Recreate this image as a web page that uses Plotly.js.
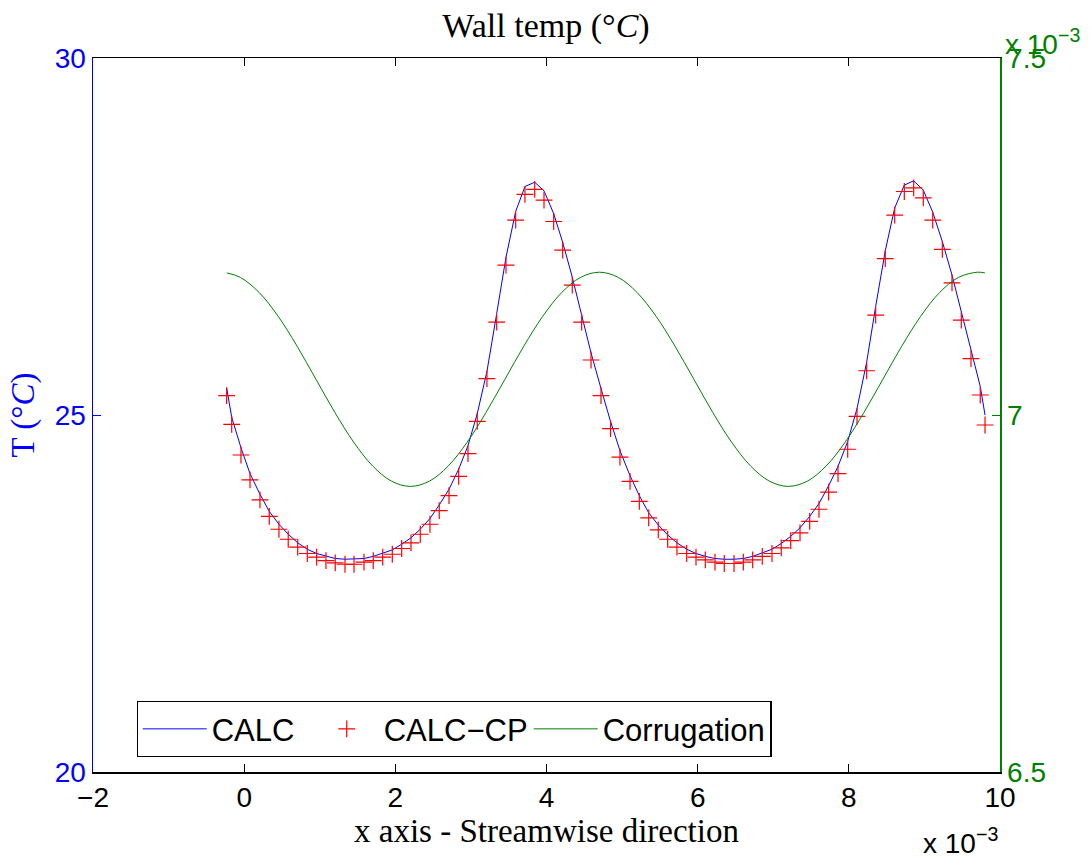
<!DOCTYPE html>
<html>
<head>
<meta charset="utf-8">
<script src="https://cdn.plot.ly/plotly-3.0.1.min.js"></script>
<style>
html,body{margin:0;padding:0;background:#fff;}
#chart{width:1092px;height:861px;}
</style>
</head>
<body>
<div id="chart"></div>
<script>
// x positions (units of 1e-3) shared by CALC and CALC-CP
const xPts = [-0.232,-0.165,-0.042,0.077,0.209,0.332,0.460,0.583,0.708,0.835,
  0.959,1.082,1.205,1.334,1.453,1.585,1.708,1.833,1.960,2.084,
  2.207,2.330,2.458,2.581,2.710,2.838,2.961,3.084,3.212,3.341,
  3.464,3.592,3.715,3.844,3.967,4.095,4.214,4.341,4.465,4.589,
  4.721,4.847,4.972,5.105,5.228,5.352,5.479,5.603,5.726,5.855,
  5.978,6.101,6.229,6.352,6.481,6.604,6.728,6.855,6.983,7.106,
  7.231,7.354,7.482,7.605,7.733,7.857,7.985,8.108,8.236,8.355,
  8.482,8.607,8.734,8.858,8.985,9.110,9.237,9.365,9.488,9.616,
  9.739,9.802];

// CALC (blue line), wall temperature in deg C
const calcT = [25.38,24.97,24.54,24.18,23.89,23.65,23.47,23.33,23.21,23.12,
  23.06,23.02,22.99,22.98,22.98,22.99,23.02,23.06,23.11,23.19,
  23.28,23.40,23.55,23.74,23.96,24.24,24.57,25.02,25.61,26.42,
  27.21,27.85,28.20,28.26,28.14,27.82,27.42,26.93,26.40,25.87,
  25.37,24.91,24.50,24.15,23.87,23.63,23.46,23.32,23.21,23.12,
  23.06,23.02,22.99,22.98,22.98,22.99,23.02,23.07,23.12,23.20,
  23.30,23.42,23.58,23.76,24.01,24.28,24.63,25.09,25.74,26.52,
  27.30,27.90,28.22,28.28,28.15,27.84,27.43,26.96,26.44,25.90,
  25.40,25.00];

// CALC-CP (red + markers)
const calcCpT = [25.27,24.87,24.44,24.09,23.81,23.58,23.40,23.26,23.15,23.06,
  23.01,22.96,22.93,22.91,22.91,22.94,22.96,23.01,23.05,23.13,
  23.21,23.33,23.47,23.66,23.87,24.14,24.46,24.91,25.51,26.30,
  27.10,27.73,28.09,28.16,28.01,27.71,27.31,26.82,26.30,25.77,
  25.27,24.81,24.41,24.07,23.79,23.56,23.39,23.26,23.15,23.06,
  23.01,22.97,22.94,22.92,22.92,22.94,22.97,23.02,23.06,23.14,
  23.24,23.35,23.51,23.68,23.92,24.18,24.52,24.98,25.62,26.40,
  27.19,27.80,28.13,28.18,28.04,27.73,27.32,26.85,26.33,25.79,
  25.28,24.86];

// Corrugation (right axis, units of 1e-3)
const corrX = [-0.23,-0.05,0.20,0.45,0.70,0.95,1.20,1.45,1.70,1.95,
  2.20,2.45,2.70,2.95,3.20,3.45,3.70,3.95,4.20,4.45,
  4.70,4.95,5.20,5.45,5.70,5.95,6.20,6.45,6.70,6.95,
  7.20,7.45,7.70,7.95,8.20,8.45,8.70,8.95,9.20,9.45,
  9.70,9.80];
const corrY = [7.199,7.1927,7.1714,7.1382,7.0964,7.05,7.0036,6.9618,6.9286,6.9073,
  6.9,6.9073,6.9286,6.9618,7.0036,7.05,7.0964,7.1382,7.1714,7.1927,
  7.2,7.1927,7.1714,7.1382,7.0964,7.05,7.0036,6.9618,6.9286,6.9073,
  6.9,6.9073,6.9286,6.9618,7.0036,7.05,7.0964,7.1382,7.1714,7.1927,
  7.2,7.199];

const xTicks = [-2,0,2,4,6,8,10];
const yLeftTicks = [20,25,30];
const yRightTicks = [6.5,7,7.5];

const sans = 'Liberation Sans, Arial, sans-serif';
const serif = 'Liberation Serif, DejaVu Serif, serif';

const traces = [
  {x: xPts, y: calcT, type: 'scatter', mode: 'lines', name: 'CALC', legendwidth: 93,
   line: {color: '#0000ff', width: 1}, yaxis: 'y'},
  {x: xPts, y: calcCpT, type: 'scatter', mode: 'markers', name: 'CALC\u2212CP', legendwidth: 140,
   marker: {symbol: 'cross-thin', size: 12, color: '#ff0000', line: {color: '#ff0000', width: 1.2}}, yaxis: 'y'},
  {x: corrX, y: corrY, type: 'scatter', mode: 'lines', name: 'Corrugation',
   line: {color: '#008000', width: 1, shape: 'spline'}, yaxis: 'y2'}
];

const layout = {
  width: 1092, height: 861,
  margin: {l: 93, r: 92, t: 58, b: 89},
  paper_bgcolor: '#ffffff', plot_bgcolor: '#ffffff',
  showlegend: true,
  title: {text: 'Wall temp (°<i>C</i>)', font: {family: serif, size: 34, color: '#000'},
          x: 0.5, xanchor: 'center', y: 0.971, yanchor: 'middle'},
  xaxis: {range: [-2, 10], tickvals: xTicks, ticktext: xTicks.map(v => v < 0 ? '\u2212' + Math.abs(v) : String(v)),
          showgrid: false, zeroline: false, showline: true, linecolor: '#000', linewidth: 1.5,
          mirror: 'ticks', ticks: 'inside', ticklen: 8, tickcolor: '#000',
          tickfont: {family: sans, size: 28, color: '#000'},
          title: {text: 'x axis - Streamwise direction', font: {family: serif, size: 33, color: '#000'}, standoff: 2}},
  yaxis: {range: [20, 30], tickvals: yLeftTicks, showgrid: false, zeroline: false,
          showline: true, linecolor: '#0000ff', linewidth: 1.5, ticks: 'inside', ticklen: 8, tickcolor: '#0000ff',
          tickfont: {family: sans, size: 28, color: '#0000ff'},
          title: {text: 'T (°<i>C</i>)', font: {family: serif, size: 33, color: '#0000ff'}, standoff: 10}},
  yaxis2: {range: [6.5, 7.5], tickvals: yRightTicks, overlaying: 'y', side: 'right',
          showgrid: false, zeroline: false, showline: true, linecolor: '#008000', linewidth: 1.5,
          ticks: 'inside', ticklen: 8, tickcolor: '#008000',
          tickfont: {family: sans, size: 28, color: '#008000'}},
  legend: {orientation: 'h', x: 0.048, xanchor: 'left', y: 0.021, yanchor: 'bottom',
           bgcolor: '#ffffff', bordercolor: '#000', borderwidth: 1.2,
           font: {family: sans, size: 31, color: '#000'}, itemwidth: 64},
  annotations: [
    {xref: 'paper', yref: 'paper', x: 1.003, y: 1.0, xanchor: 'left', yanchor: 'bottom', showarrow: false,
     text: 'x 10<sup>\u22123</sup>', font: {family: sans, size: 28, color: '#008000'}, yshift: -4},
    {xref: 'paper', yref: 'paper', x: 1.0, y: -0.075, xanchor: 'right', yanchor: 'top', showarrow: false,
     text: 'x 10<sup>\u22123</sup>', font: {family: sans, size: 28, color: '#000'}, yshift: 5}
  ]
};

Plotly.newPlot('chart', traces, layout, {displayModeBar: false, staticPlot: true});
</script>
</body>
</html>
